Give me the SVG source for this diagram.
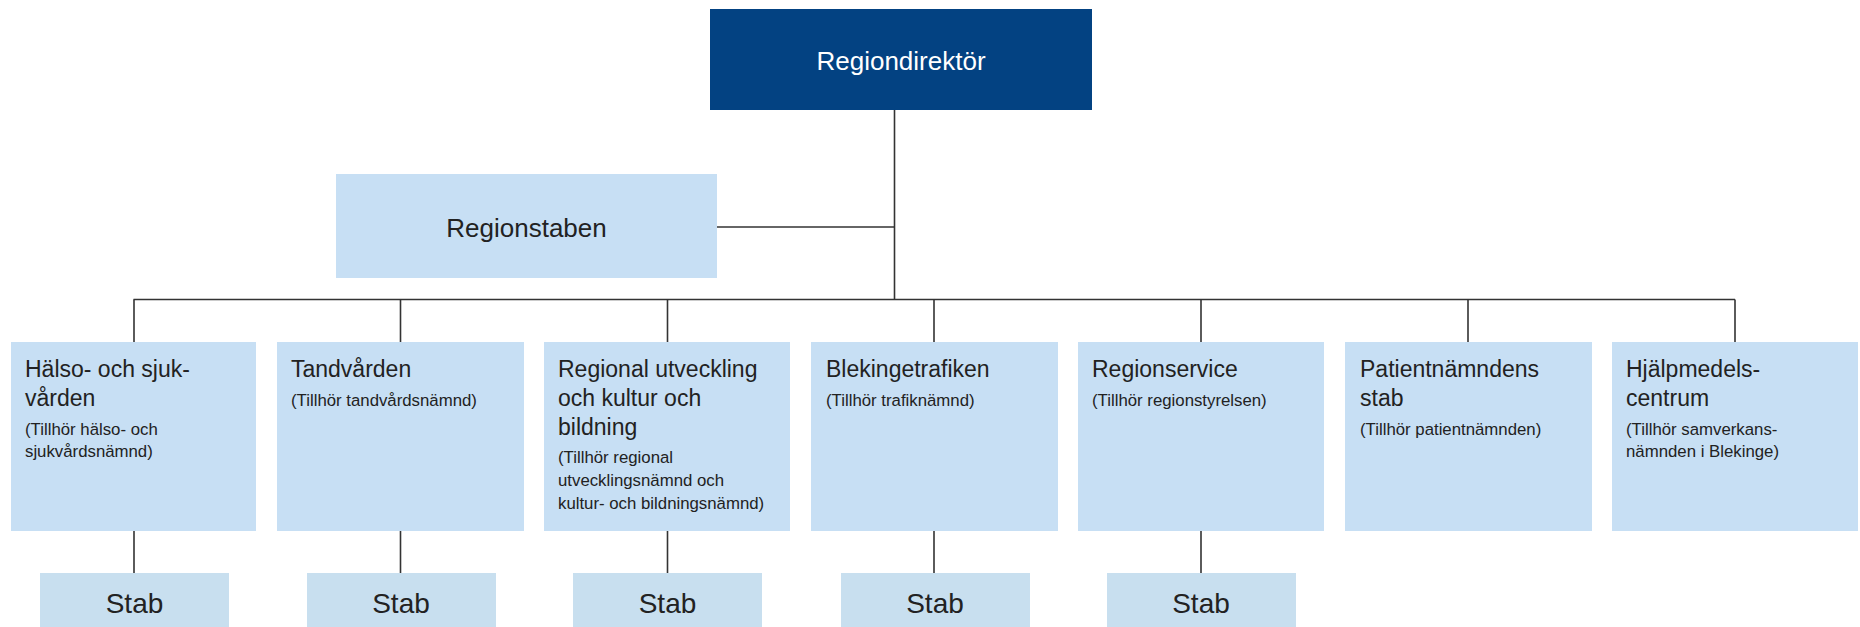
<svg xmlns="http://www.w3.org/2000/svg" width="1860" height="627" viewBox="0 0 1860 627">
<style>
.bg{fill:#ffffff}
.dir{fill:#034282}
.box{fill:#c7dff4}
.stab{fill:#c8dfef}
.ln{stroke:#333333;stroke-width:1.6;fill:none}
text{font-family:"Liberation Sans",Arial,sans-serif;fill:#222222}
.t1{font-size:23px}
.t2{font-size:16.8px}
.hd{font-size:26px;text-anchor:middle}
.st{font-size:28px;text-anchor:middle}
.wt{fill:#ffffff}
</style>
<rect class="bg" x="0" y="0" width="1860" height="627"/>
<g id="connectors">
<line class="ln" x1="894.5" y1="110" x2="894.5" y2="299.5"/>
<line class="ln" x1="717" y1="227" x2="894.5" y2="227"/>
<line class="ln" x1="133.5" y1="299.5" x2="1735" y2="299.5"/>
<line class="ln" x1="134" y1="299.5" x2="134" y2="342"/>
<line class="ln" x1="400.5" y1="299.5" x2="400.5" y2="342"/>
<line class="ln" x1="667.5" y1="299.5" x2="667.5" y2="342"/>
<line class="ln" x1="934" y1="299.5" x2="934" y2="342"/>
<line class="ln" x1="1201" y1="299.5" x2="1201" y2="342"/>
<line class="ln" x1="1468" y1="299.5" x2="1468" y2="342"/>
<line class="ln" x1="1735" y1="299.5" x2="1735" y2="342"/>
<line class="ln" x1="134" y1="531" x2="134" y2="575"/>
<line class="ln" x1="400.5" y1="531" x2="400.5" y2="575"/>
<line class="ln" x1="667.5" y1="531" x2="667.5" y2="575"/>
<line class="ln" x1="934" y1="531" x2="934" y2="575"/>
<line class="ln" x1="1201" y1="531" x2="1201" y2="575"/>
</g>
<g id="regiondirektor">
<rect class="dir" x="710" y="9" width="382" height="101"/>
<text class="hd wt" x="901" y="70">Regiondirektör</text>
</g>
<g id="regionstaben">
<rect class="box" x="336" y="174" width="381" height="104"/>
<text class="hd" x="526.5" y="237">Regionstaben</text>
</g>
<g id="halso">
<rect class="box" x="11" y="342" width="245" height="189"/>
<text class="t1" x="25" y="377">Hälso- och sjuk-</text>
<text class="t1" x="25" y="406">vården</text>
<text class="t2" x="25" y="435">(Tillhör hälso- och</text>
<text class="t2" x="25" y="457">sjukvårdsnämnd)</text>
</g>
<g id="tandvarden">
<rect class="box" x="277" y="342" width="247" height="189"/>
<text class="t1" x="291" y="377">Tandvården</text>
<text class="t2" x="291" y="406">(Tillhör tandvårdsnämnd)</text>
</g>
<g id="regional">
<rect class="box" x="544" y="342" width="246" height="189"/>
<text class="t1" x="558" y="377">Regional utveckling</text>
<text class="t1" x="558" y="406">och kultur och</text>
<text class="t1" x="558" y="435">bildning</text>
<text class="t2" x="558" y="463">(Tillhör regional</text>
<text class="t2" x="558" y="486">utvecklingsnämnd och</text>
<text class="t2" x="558" y="509">kultur- och bildningsnämnd)</text>
</g>
<g id="blekingetrafiken">
<rect class="box" x="811" y="342" width="247" height="189"/>
<text class="t1" x="826" y="377">Blekingetrafiken</text>
<text class="t2" x="826" y="406">(Tillhör trafiknämnd)</text>
</g>
<g id="regionservice">
<rect class="box" x="1078" y="342" width="246" height="189"/>
<text class="t1" x="1092" y="377">Regionservice</text>
<text class="t2" x="1092" y="406">(Tillhör regionstyrelsen)</text>
</g>
<g id="patientnamnden">
<rect class="box" x="1345" y="342" width="247" height="189"/>
<text class="t1" x="1360" y="377">Patientnämndens</text>
<text class="t1" x="1360" y="406">stab</text>
<text class="t2" x="1360" y="435">(Tillhör patientnämnden)</text>
</g>
<g id="hjalpmedel">
<rect class="box" x="1612" y="342" width="246" height="189"/>
<text class="t1" x="1626" y="377">Hjälpmedels-</text>
<text class="t1" x="1626" y="406">centrum</text>
<text class="t2" x="1626" y="435">(Tillhör samverkans-</text>
<text class="t2" x="1626" y="457">nämnden i Blekinge)</text>
</g>
<g id="stab1">
<rect class="stab" x="40" y="573" width="189" height="54"/>
<text class="st" x="134.5" y="613">Stab</text>
</g>
<g id="stab2">
<rect class="stab" x="307" y="573" width="189" height="54"/>
<text class="st" x="401" y="613">Stab</text>
</g>
<g id="stab3">
<rect class="stab" x="573" y="573" width="189" height="54"/>
<text class="st" x="667.5" y="613">Stab</text>
</g>
<g id="stab4">
<rect class="stab" x="841" y="573" width="189" height="54"/>
<text class="st" x="935" y="613">Stab</text>
</g>
<g id="stab5">
<rect class="stab" x="1107" y="573" width="189" height="54"/>
<text class="st" x="1201" y="613">Stab</text>
</g>
</svg>
